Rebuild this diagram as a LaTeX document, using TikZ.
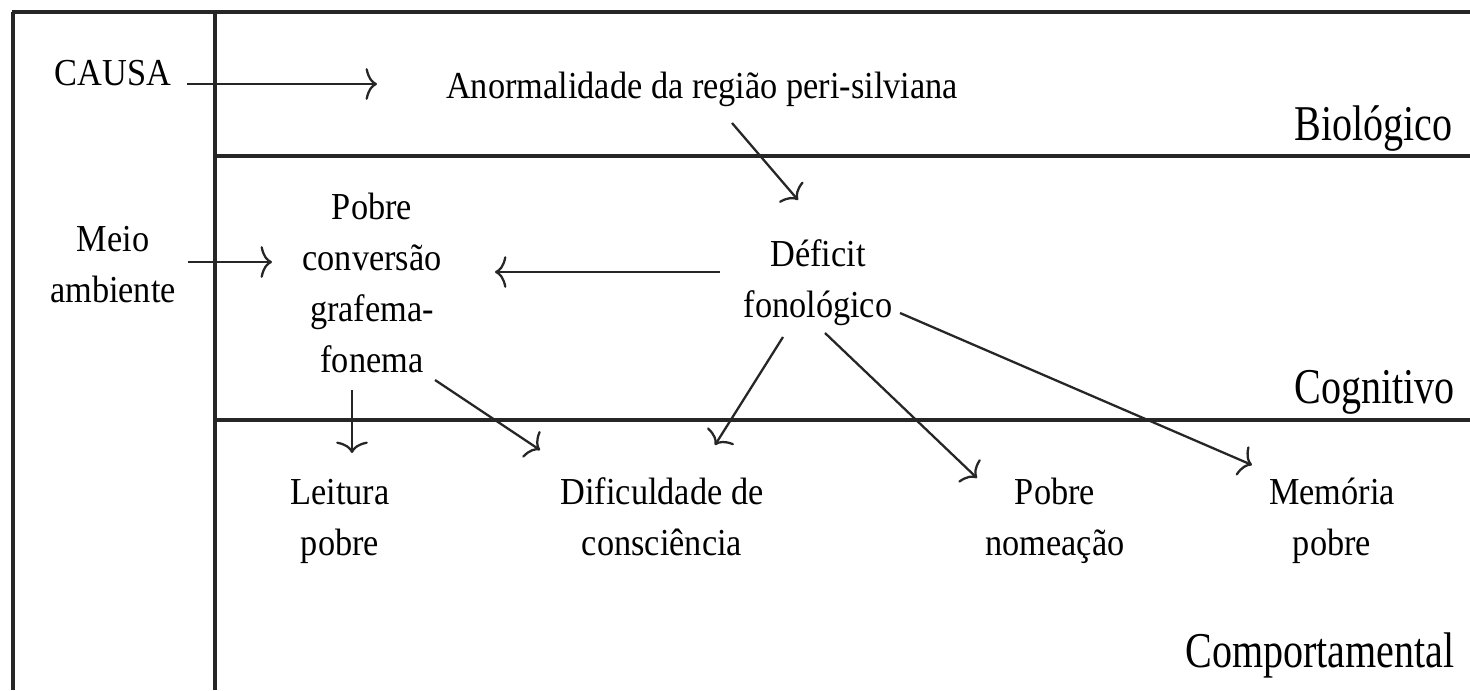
\documentclass[tikz,border=0pt]{standalone}
\usepackage{fontspec}
\setmainfont{Liberation Serif}[FakeStretch=0.9]
\newfontfamily\levelfamily{Liberation Serif}[FakeStretch=0.8]
\usepackage{tikz}
\usetikzlibrary{arrows.meta}
\newcommand{\bodyfont}{\fontsize{21.7}{29}\selectfont}
\newcommand{\levelfont}{\levelfamily\fontsize{28.5}{34}\selectfont}
\tikzset{
  txt/.style={inner sep=0pt, align=center, anchor=base, font=\bodyfont},
  lvl/.style={inner sep=0pt, anchor=base east, font=\levelfont},
  frame/.style={line width=2pt, draw=black!85},
  arr/.style={-{To[length=6.5pt, width=18pt]}, line width=1.3pt, draw=black!85},
}
\begin{document}
\begin{tikzpicture}[x=0.02cm, y=-0.02cm]
  \useasboundingbox (0,0) rectangle (1470,690);
  % Frame and levels
  \draw[frame] (13,690) -- (13,12);
  \draw[frame, line width=2.6pt] (12,12) -- (1470,12);
  \draw[frame] (215,12) -- (215,690);
  \draw[frame] (215,156) -- (1470,156);
  \draw[frame] (215,420) -- (1470,420);

  % Left column
  \node[txt] (causa) at (113,85) {CAUSA};
  \node[txt] (meio) at (113,302) {Meio\\ambiente};

  % Biological level
  \node[txt] (anorm) at (702,98) {Anormalidade da região peri-silviana};
  \node[lvl] (bio) at (1453,140) {Biológico};

  % Cognitive level
  \node[txt] (conv) at (372,372) {Pobre\\conversão\\grafema-\\fonema};
  \node[txt] (deficit) at (818,317) {Déficit\\fonológico};
  \node[lvl] (cog) at (1455,403) {Cognitivo};

  % Behavioural level
  \node[txt] (leitura) at (340,555) {Leitura\\pobre};
  \node[txt] (dific) at (662,555) {Dificuldade de\\consciência};
  \node[txt] (nomeacao) at (1055,555) {Pobre\\nomeação};
  \node[txt] (memoria) at (1332,555) {Memória\\pobre};
  \node[lvl] (comport) at (1455,667) {Comportamental};

  % Arrows
  \draw[arr] ([shift={(74,-1)}]causa.base) -- ([shift={(-325,-14)}]anorm.base);
  \draw[arr] ([shift={(30,25)}]anorm.base) -- ([shift={(-20,-117)}]deficit.base);
  \draw[arr] ([shift={(75,-40)}]meio.base) -- ([shift={(-100,-110)}]conv.base);
  \draw[arr] ([shift={(-98,-45)}]deficit.base) -- ([shift={(123,-100)}]conv.base);
  \draw[arr] ([shift={(-20,18)}]conv.base) -- ([shift={(12,-102)}]leitura.base);
  \draw[arr] ([shift={(63,8)}]conv.base) -- ([shift={(-122,-105)}]dific.base);
  \draw[arr] ([shift={(-35,20)}]deficit.base) -- ([shift={(53,-110)}]dific.base);
  \draw[arr] ([shift={(7,16)}]deficit.base) -- ([shift={(-78,-77)}]nomeacao.base);
  \draw[arr] ([shift={(82,-4)}]deficit.base) -- ([shift={(-80,-90)}]memoria.base);
\end{tikzpicture}
\end{document}
